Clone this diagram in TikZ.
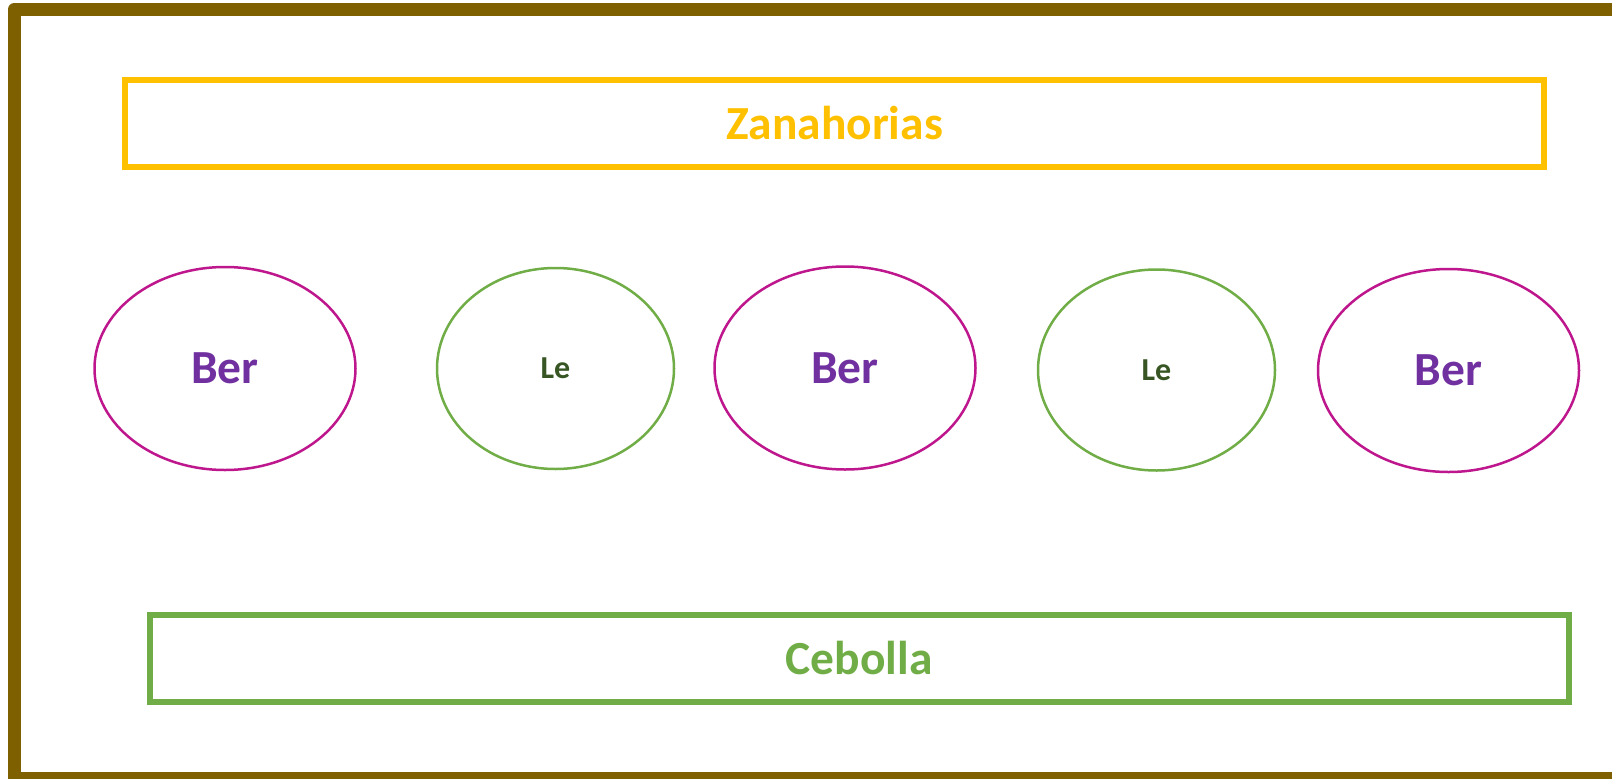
\documentclass[tikz,border=0pt]{standalone}
\usepackage{fontspec}
\setmainfont{Carlito}
\usetikzlibrary{shapes.geometric}
\definecolor{frameC}{HTML}{7F6000}
\definecolor{carrotC}{HTML}{FFC000}
\definecolor{onionC}{HTML}{70AD47}
\definecolor{berC}{HTML}{BE178D}
\definecolor{berT}{HTML}{7030A0}
\definecolor{leT}{HTML}{375623}
\begin{document}
\begin{tikzpicture}[x=1pt,y=-1pt,row/.style={shape=rectangle,draw,line width=6pt,minimum width=1419pt,minimum height=87pt,inner sep=0pt,font=\bfseries\fontsize{47.5}{56}\selectfont},carrot/.style={row,draw=carrotC,text=carrotC},onion/.style={row,draw=onionC,text=onionC},plant/.style={shape=ellipse,line width=2.5pt,inner sep=0pt},ber/.style={plant,draw=berC,text=berT,minimum width=261pt,minimum height=203pt,font=\bfseries\fontsize{47.5}{56}\selectfont},le/.style={plant,draw=onionC,text=leT,minimum width=237pt,minimum height=201pt,font=\bfseries\fontsize{32}{38}\selectfont}]
\def\ya{368.5};
\def\yb{370};

\useasboundingbox (0,0) rectangle (1612,779);
\clip (0,0) rectangle (1612,779);
\draw[frameC,line width=13pt,line join=round] (14.5,9) rectangle (1630,778.5);

\node[carrot] (Z) at (834.5,123) {Zanahorias};
\node[onion] (C) at (859,658.5) {Cebolla};

\node[ber] (B1) at (225,\ya) {Ber};
\node[le] (L1) at (555.5,\ya) {Le};
\node[ber] (B2) at (845,368) {Ber};
\node[le] (L2) at (1156.5,\yb) {Le};
\node[ber] (B3) at (1448.5,370.5) {Ber};
\end{tikzpicture}
\end{document}
